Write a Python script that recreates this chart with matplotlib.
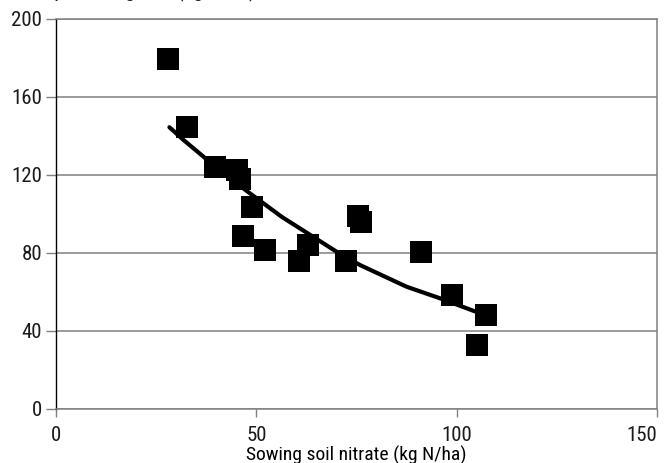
#!/usr/bin/env python
# -*- coding: utf-8 -*-
"""Sowing soil nitrate vs topdressing N: scatter with fitted trend."""

import matplotlib

matplotlib.use("Agg")
import matplotlib.pyplot as plt
from matplotlib import font_manager

# measured sites
sowing_nitrate = [28.0, 32.8, 39.7, 45.2, 46.0, 49.0, 46.7, 52.2, 63.0, 60.7,
                  72.4, 75.4, 76.2, 91.2, 98.9, 107.4, 105.1]
topdress_n = [179.5, 144.5, 124.3, 122.6, 117.8, 103.4, 88.7, 81.5, 84.1, 76.1,
              75.9, 99.0, 95.9, 80.4, 58.3, 48.1, 32.7]

# trend line
trend_x = [28.3, 31.8, 41.75, 48.4, 56.3, 70.0, 75.9, 87.5, 95.8, 105.8]
trend_y = [144.5, 138.0, 120.9, 110.6, 98.6, 80.7, 73.8, 62.7, 56.8, 49.1]

x_ticks = [0, 50, 100, 150]
y_ticks = [0, 40, 80, 120, 160, 200]

TEXT_COLOR = "#1a1a1a"
GRID_COLOR = "#808080"


def pick_narrow_font():
    """Return (family, stretch, size) for the narrowest sans available."""
    entries = font_manager.fontManager.ttflist
    names = {f.name for f in entries}
    for name in ("Liberation Sans Narrow", "Arial Narrow", "Roboto Condensed",
                 "Open Sans Condensed", "Noto Sans Condensed"):
        if name in names:
            return name, "normal", 15
    for f in entries:
        if f.name == "DejaVu Sans" and str(f.stretch) in ("condensed", "semi-condensed"):
            return "DejaVu Sans", "condensed", 14
    return "Liberation Sans", "normal", 13.5


family, stretch, FONT_SIZE = pick_narrow_font()

plt.rcParams.update(
    {
        "font.family": [family, "DejaVu Sans"],
        "font.stretch": stretch,
        "font.size": FONT_SIZE,
        "text.color": TEXT_COLOR,
        "xtick.color": TEXT_COLOR,
        "ytick.color": TEXT_COLOR,
    }
)

fig = plt.figure(figsize=(6.71, 4.63), dpi=100)
ax = fig.add_axes([56 / 671, 1 - 409 / 463, 601 / 671, 390 / 463])

ax.plot(trend_x, trend_y, color="black", linewidth=3.0,
        solid_capstyle="round", zorder=3)
ax.plot(sowing_nitrate, topdress_n, linestyle="none", marker="s",
        markersize=16.5, color="black", markeredgewidth=0, zorder=4)

ax.set_xlim(0, 150)
ax.set_ylim(0, 200)
ax.set_xticks(x_ticks)
ax.set_yticks(y_ticks)
ax.grid(True, axis="y", color=GRID_COLOR, linewidth=1.1, zorder=1)
ax.set_axisbelow(True)

for side in ("top", "right", "bottom"):
    ax.spines[side].set_color(GRID_COLOR)
    ax.spines[side].set_linewidth(1.1)
ax.spines["left"].set_color("black")
ax.spines["left"].set_linewidth(1.0)

ax.tick_params(axis="y", length=7.5, width=1.0, pad=2.5, color=GRID_COLOR,
               labelsize=FONT_SIZE)
ax.tick_params(axis="x", length=6, width=1.0, pad=6, color=GRID_COLOR,
               labelsize=FONT_SIZE)
# last x label sits flush with the right edge of the frame
ax.get_xticklabels()[-1].set_horizontalalignment("right")

ax.set_xlabel("Sowing soil nitrate (kg N/ha)", fontsize=FONT_SIZE - 1, labelpad=1)

# axis title sits above the frame and is mostly cropped off
fig.text(20 / 671, 1 + 3 / 463, "N topdressing rate (kg N/ha)",
         ha="left", va="baseline", fontsize=FONT_SIZE)

fig.savefig("out.png", dpi=100)
